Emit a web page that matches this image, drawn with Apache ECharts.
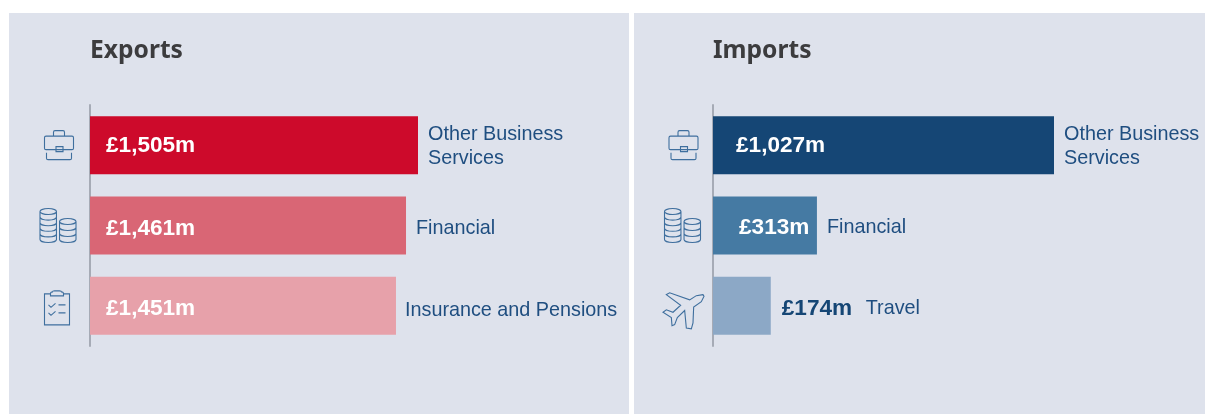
<!DOCTYPE html>
<html>
<head>
<meta charset="utf-8">
<style>html,body{margin:0;padding:0;background:#fff}#c{width:1205px;height:414px}</style>
<script src="https://cdn.jsdelivr.net/npm/echarts@6/dist/echarts.min.js"></script>
</head>
<body>
<div id="c"></div>
<script>
// Exports panel
const exportCategories = ['Other Business\nServices', 'Financial', 'Insurance and Pensions'];
const exportLabels = ['£1,505m', '£1,461m', '£1,451m'];
// Bar lengths as drawn in the picture (the source's third bar is shorter than its printed amount implies)
const exportBars = [1505, 1450, 1404];
const exportColors = ['#cd0a2b', '#d96675', '#e7a1aa'];
const exportIcons = ['case', 'coins', 'clip'];

// Imports panel
const importCategories = ['Other Business\nServices', 'Financial', 'Travel'];
const importLabels = ['£1,027m', '£313m', '£174m'];
const importBars = [1027, 313, 174];
const importColors = ['#154675', '#457aa3', '#8ca8c6'];
const importIcons = ['case', 'coins', 'plane'];

const BG = '#dee2ec', TEXT = '#1f4e80', AXIS = '#a6abb6', ICON = '#3f6f9e', TITLE = '#3c3c3e';
const SANS = '"Liberation Sans", Arial, sans-serif';

function stack(x, y0, rx, ry, layers, gap) {
  let d = `M${x} ${y0}A${rx} ${ry} 0 1 1 ${x + 2 * rx} ${y0}A${rx} ${ry} 0 1 1 ${x} ${y0}`;
  for (let i = 0; i < layers; i++) {
    const a = y0 + i * gap, b = a + gap;
    d += `M${x} ${a}L${x} ${b}A${rx} ${ry} 0 0 0 ${x + 2 * rx} ${b}L${x + 2 * rx} ${a}`;
  }
  return d;
}
const ICONS = {
  case: { w: 29, h: 29, dx: -31, dy: 0, d:
    'M1.5 5.5H27.5Q29 5.5 29 7V17.5Q29 19 27.5 19H1.5Q0 19 0 17.5V7Q0 5.5 1.5 5.5Z' +
    'M9 5.5V1.5Q9 0 10.5 0H18.5Q20 0 20 1.5V5.5' +
    'M11.5 16H18.5V21H11.5Z' +
    'M2 22V27.5Q2 29 3.5 29H25.5Q27 29 27 27.5V22' },
  coins: { w: 36, h: 34, dx: -32, dy: 0, d:
    stack(0, 3, 8, 3, 5, 5.6) + stack(19, 13, 8, 3, 3, 6) },
  clip: { w: 25, h: 34, dx: -33, dy: 2, d:
    'M6 3H0V34H25V3H19' +
    'M6 3Q6 1 8 1Q8 0 10 0H15Q17 0 17 1Q19 1 19 3V5H6Z' +
    'M4 14L6.5 16.5L11 12.5M14 14H21' +
    'M4 22L6.5 24.5L11 20.5M14 22H21' },
  plane: { w: 41, h: 36, dx: -31, dy: 5, d:
    'M185 315L165 318L145 330L85 310L75 315L118 345L95 365L75 358L65 365L90 380L92 403L100 400L108 380L130 360L135 410L150 412L155 395L157 350L180 335L188 320Z' }
};

function panel(idx, title, cats, labels, bars, colors, icons, left, width, max, inset, outside, valueNudge, nameNudge, iconShift) {
  const yAxis = { gridIndex: idx, type: 'category', inverse: true, data: cats,
    axisLine: { show: true, lineStyle: { color: AXIS, width: 2 } },
    axisTick: { show: false }, axisLabel: { show: false }, splitLine: { show: false } };
  const xAxis = { gridIndex: idx, type: 'value', min: 0, max: max, show: false };
  const grid = { left: left, width: width, top: 105, height: 241 };
  const valueSeries = {
    type: 'bar', xAxisIndex: idx, yAxisIndex: idx, barWidth: 58, barGap: '-100%', silent: true,
    data: bars.map((v, i) => {
      const out = outside[i] !== undefined;
      return {
        value: v, itemStyle: { color: colors[i] },
        label: {
          show: true, formatter: labels[i],
          position: out ? 'right' : 'insideLeft',
          distance: out ? outside[i] : inset[i],
          offset: [0, valueNudge[i]],
          color: out ? '#154675' : '#fff',
          fontFamily: SANS, fontWeight: 'bold', fontSize: 22.6
        }
      };
    })
  };
  const nameSeries = {
    type: 'bar', xAxisIndex: idx, yAxisIndex: idx, barWidth: 58, barGap: '-100%', silent: true,
    itemStyle: { color: 'transparent' },
    data: bars.map((v, i) => ({
      value: v,
      label: {
        show: true, formatter: cats[i], position: 'right',
        distance: outside[i] !== undefined ? 96 : 10,
        offset: nameNudge[i],
        color: TEXT, fontFamily: SANS, fontSize: 19.8, lineHeight: 24
      }
    }))
  };
  const iconSeries = {
    type: 'custom', xAxisIndex: idx, yAxisIndex: idx, silent: true, clip: false,
    data: icons.map((n, i) => [0, i]),
    renderItem: function (params, api) {
      const p = api.coord([api.value(0), api.value(1)]);
      const ic = ICONS[icons[params.dataIndex]];
      return {
        type: 'path',
        x: p[0] + ic.dx + iconShift - ic.w / 2,
        y: p[1] + ic.dy - ic.h / 2,
        shape: { pathData: ic.d, x: 0, y: 0, width: ic.w, height: ic.h, layout: 'cover' },
        style: { fill: 'none', stroke: ICON, lineWidth: 1.1 }
      };
    }
  };
  const ttl = { text: title, left: left, top: 35, padding: 0,
    textStyle: { color: TITLE, fontFamily: '"Noto Sans", sans-serif', fontWeight: 'bold', fontSize: 24.6, lineHeight: 32 } };
  return { yAxis, xAxis, grid, series: [valueSeries, nameSeries, iconSeries], title: ttl };
}

const L = panel(0, 'Exports', exportCategories, exportLabels, exportBars, exportColors, exportIcons, 90, 328, 1505,
  [16, 16, 16], [], [1, 3, 3], [[0, 1], [0, 3], [-1, 5]], 0);
const R = panel(1, 'Imports', importCategories, importLabels, importBars, importColors, importIcons, 713, 341, 1027,
  [23, 26, 0], [undefined, undefined, 11], [1, 2, 3], [[0, 1], [0, 2], [-1, 3]], 1.5);

const chart = echarts.init(document.getElementById('c'), null, { renderer: 'canvas' });
chart.setOption({
  animation: false,
  backgroundColor: '#fff',
  title: [L.title, R.title],
  grid: [L.grid, R.grid],
  xAxis: [L.xAxis, R.xAxis],
  yAxis: [L.yAxis, R.yAxis],
  series: L.series.concat(R.series),
  graphic: [
    { type: 'rect', z: -10, shape: { x: 9, y: 13, width: 620, height: 401 }, style: { fill: BG } },
    { type: 'rect', z: -10, shape: { x: 634, y: 13, width: 571, height: 401 }, style: { fill: BG } }
  ]
});
</script>
</body>
</html>
